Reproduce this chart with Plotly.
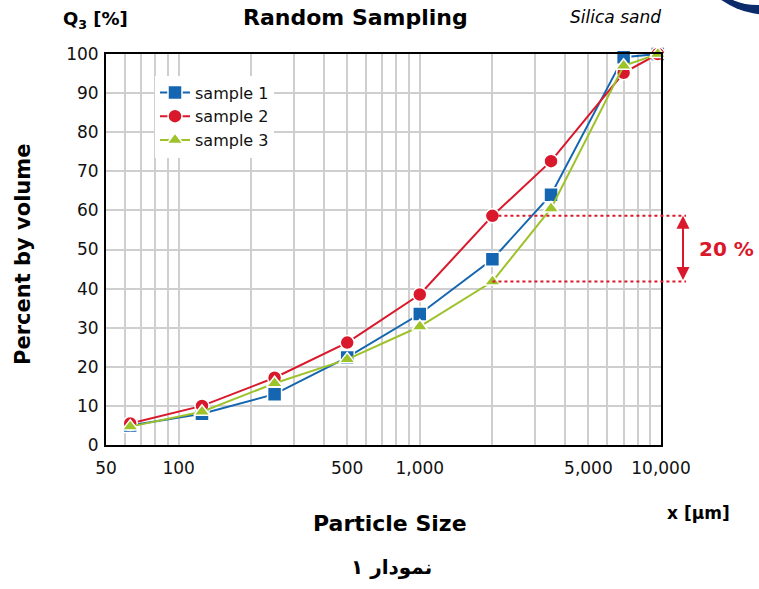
import math
import plotly.graph_objects as go

# ---- data ----
particle_size = [63, 125, 250, 500, 1000, 2000, 3500, 7000, 9700]
sample_1 = [5.0, 8.0, 13.0, 22.4, 33.5, 47.5, 64.0, 99.2, 100.0]
sample_2 = [5.5, 10.0, 17.2, 26.2, 38.5, 58.6, 72.6, 95.2, 100.0]
sample_3 = [4.7, 8.5, 15.8, 21.9, 30.3, 41.8, 60.5, 97.0, 100.0]
series_names = ["sample 1", "sample 2", "sample 3"]

x_tickvals = [50, 100, 500, 1000, 5000, 10000]
x_ticktext = ["50", "100", "500", "1,000", "5,000", "10,000"]
x_minor = [60, 70, 80, 90, 200, 300, 400, 600, 700, 800, 900,
           2000, 3000, 4000, 6000, 7000, 8000, 9000]
y_tickvals = list(range(0, 101, 10))
x_min, x_max = 50, 10000

BLUE = "#1466b0"
RED = "#d9182b"
GREEN = "#9dc22a"
GRID = "#cfcfcf"
FONT = "DejaVu Sans"

# plot-area geometry in window pixels (used to place decorations)
PX0, PX1, PY0, PY1 = 106, 661, 54, 445
W, H = 759, 589


def px2paper_x(px):
    return (px - PX0) / (PX1 - PX0)


def px2paper_y(py):
    return (PY1 - py) / (PY1 - PY0)


fig = go.Figure()
styles = [(sample_1, BLUE, "square"), (sample_2, RED, "circle"), (sample_3, GREEN, "triangle-up")]
for name, (vals, col, sym) in zip(series_names, styles):
    fig.add_trace(go.Scatter(
        x=particle_size, y=vals, name=name, mode="lines+markers",
        line=dict(color=col, width=2),
        marker=dict(symbol=sym, size=14, color=col, line=dict(color="white", width=1.5)),
        cliponaxis=False,
    ))


def xpaper(v):
    return (math.log10(v) - math.log10(x_min)) / (math.log10(x_max) - math.log10(x_min))


# 20 % difference markers
i_diff = 5
y_hi = sample_2[i_diff] / 100
y_lo = sample_3[i_diff] / 100
x_start = xpaper(particle_size[i_diff])
x_end = px2paper_x(686)
for yy in (y_hi, y_lo):
    fig.add_shape(type="line", xref="paper", yref="paper",
                  x0=x_start, x1=x_end, y0=yy, y1=yy,
                  line=dict(color=RED, width=2, dash="dot"))

fig.add_annotation(xref="paper", yref="paper", x=px2paper_x(683), y=y_hi,
                   axref="pixel", ayref="pixel", ax=0, ay=(y_hi - y_lo) * (PY1 - PY0),
                   text="", showarrow=True, arrowside="end+start",
                   arrowhead=2, startarrowhead=2, arrowsize=1.3, startarrowsize=1.3,
                   arrowwidth=2, arrowcolor=RED, standoff=0, startstandoff=0)
fig.add_annotation(xref="paper", yref="paper", x=px2paper_x(697), y=(y_hi + y_lo) / 2,
                   xanchor="left", yanchor="middle", showarrow=False,
                   text="<b>20 %</b>", font=dict(family=FONT, size=20, color=RED))

# texts
fig.add_annotation(xref="paper", yref="paper", x=px2paper_x(355), y=px2paper_y(18),
                   xanchor="center", yanchor="middle", showarrow=False,
                   text="<b>Random Sampling</b>",
                   font=dict(family=FONT, size=22, color="black"))
fig.add_annotation(xref="paper", yref="paper", x=px2paper_x(61), y=px2paper_y(20),
                   xanchor="left", yanchor="middle", showarrow=False,
                   text="<b>Q<sub>3</sub> [%]</b>",
                   font=dict(family=FONT, size=18, color="black"))
fig.add_annotation(xref="paper", yref="paper", x=px2paper_x(663), y=px2paper_y(17),
                   xanchor="right", yanchor="middle", showarrow=False,
                   text="<i>Silica sand</i>",
                   font=dict(family=FONT, size=17, color="black"))
fig.add_annotation(xref="paper", yref="paper", x=px2paper_x(665), y=px2paper_y(513),
                   xanchor="left", yanchor="middle", showarrow=False,
                   text="<b>x [µm]</b>",
                   font=dict(family=FONT, size=17, color="black"))
fig.add_annotation(xref="paper", yref="paper", x=px2paper_x(390), y=px2paper_y(523),
                   xanchor="center", yanchor="middle", showarrow=False,
                   text="<b>Particle Size</b>",
                   font=dict(family=FONT, size=22, color="black"))
fig.add_annotation(xref="paper", yref="paper", x=px2paper_x(391), y=px2paper_y(567),
                   xanchor="center", yanchor="middle", showarrow=False,
                   text="<b>نمودار ۱</b>",
                   font=dict(family=FONT, size=20, color="black"))
fig.add_annotation(xref="paper", yref="paper", x=px2paper_x(23), y=px2paper_y(255),
                   xanchor="center", yanchor="middle", showarrow=False,
                   text="<b>Percent by volume</b>", textangle=-90,
                   font=dict(family=FONT, size=21, color="black"))

# logo fragment top-right (dark blue ring)
R_out, cx_out, cy_out = 87, 770, -72
R_in, cx_in, cy_in = 60, 757, -55
fig.add_shape(type="circle", xref="paper", yref="paper", layer="above",
              x0=px2paper_x(cx_out - R_out), x1=px2paper_x(cx_out + R_out),
              y0=px2paper_y(cy_out + R_out), y1=px2paper_y(cy_out - R_out),
              fillcolor="#0c2b6b", line=dict(width=0))
fig.add_shape(type="circle", xref="paper", yref="paper", layer="above",
              x0=px2paper_x(cx_in - R_in), x1=px2paper_x(cx_in + R_in),
              y0=px2paper_y(cy_in + R_in), y1=px2paper_y(cy_in - R_in),
              fillcolor="white", line=dict(width=0))

fig.update_layout(
    width=W, height=H,
    margin=dict(l=PX0, r=W - PX1, t=PY0, b=H - PY1),
    paper_bgcolor="white", plot_bgcolor="white",
    font=dict(family=FONT, size=17, color="#111"),
    showlegend=True,
    legend=dict(x=px2paper_x(155), y=0.945, xanchor="left", yanchor="top",
                bgcolor="white", borderwidth=0,
                font=dict(family=FONT, size=16, color="#111"),
                tracegroupgap=0, itemwidth=30),
    xaxis=dict(type="log", range=[math.log10(x_min), math.log10(x_max)],
               tickmode="array", tickvals=x_tickvals, ticktext=x_ticktext,
               showgrid=True, gridcolor=GRID, gridwidth=2,
               minor=dict(tickmode="array", tickvals=x_minor, showgrid=True,
                          gridcolor=GRID, gridwidth=2),
               showline=True, linecolor="black", linewidth=2, mirror=True,
               ticks="", ticklabelstandoff=7, zeroline=False,
               tickfont=dict(family=FONT, size=17, color="#111")),
    yaxis=dict(range=[0, 100], tickmode="array", tickvals=y_tickvals,
               showgrid=True, gridcolor=GRID, gridwidth=2,
               showline=True, linecolor="black", linewidth=2, mirror=True,
               ticks="", ticklabelstandoff=2, zeroline=False,
               tickfont=dict(family=FONT, size=17, color="#111")),
)

fig.write_html("out.html",
               config={"displayModeBar": False},
               post_script="document.body.style.margin='0px';"
                           "document.body.style.overflow='hidden';")
